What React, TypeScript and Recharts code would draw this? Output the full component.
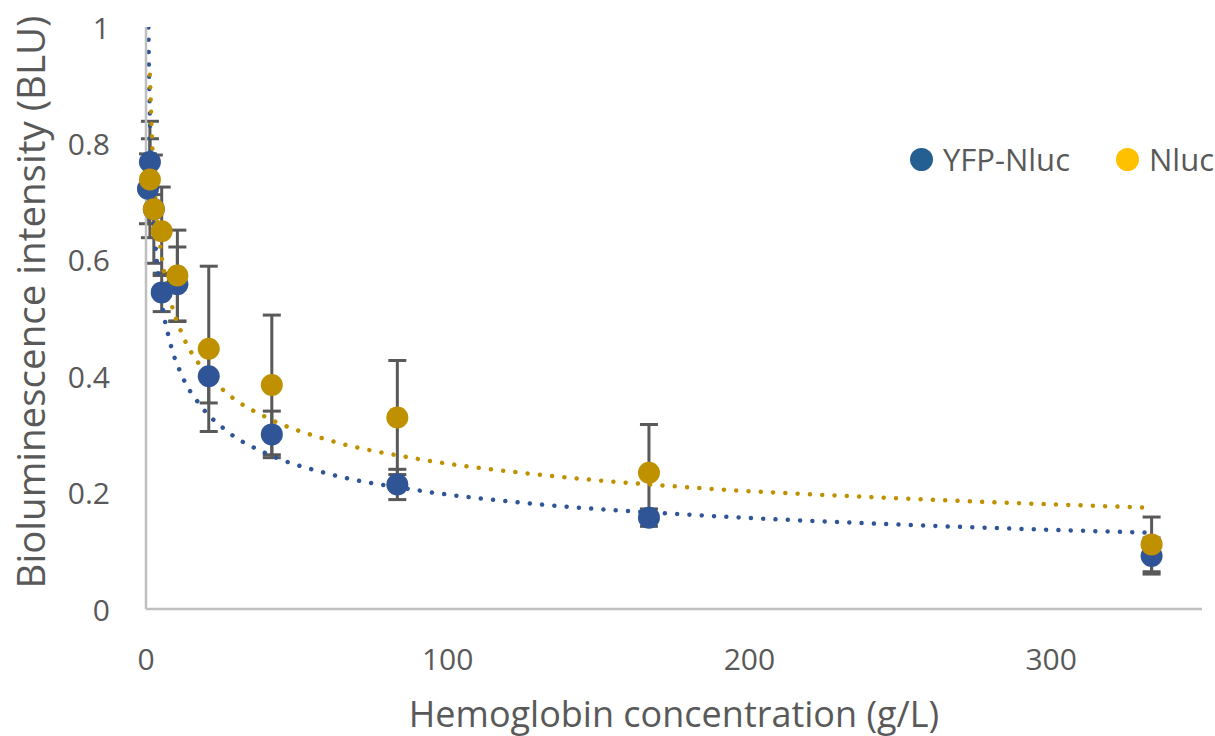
import React from "react";
import { ComposedChart, Scatter, Line, XAxis, YAxis, ErrorBar } from "recharts";

// hemoglobin concentration (g/L), two-fold dilutions
const YFP_CONC = [0.65, 1.3, 2.6, 5.2, 10.4, 20.8, 41.7, 83.3, 166.7, 333.3];
const YFP_BLU = [0.722, 0.768, 0.687, 0.544, 0.558, 0.4, 0.3, 0.214, 0.157, 0.091];
const YFP_ERR = [0.06, 0.04, 0.025, 0.033, 0.064, 0.046, 0.04, 0.026, 0.015, 0.031];

const NLUC_CONC = [1.3, 2.6, 5.2, 10.4, 20.8, 41.7, 83.3, 166.7, 333.3];
const NLUC_BLU = [0.738, 0.687, 0.649, 0.573, 0.447, 0.385, 0.329, 0.234, 0.111];
const NLUC_ERR = [0.1, 0.093, 0.076, 0.078, 0.142, 0.12, 0.098, 0.083, 0.047];

// power trendlines
const YFP_TREND_X = [0.65, 1, 1.3, 2, 3, 5, 8, 12, 18, 27, 40, 60, 90, 130, 180, 250, 333.3];
const YFP_TREND_Y = [1.063, 0.92, 0.843, 0.73, 0.637, 0.536, 0.458, 0.4, 0.35, 0.305, 0.267, 0.233, 0.204, 0.18, 0.162, 0.145, 0.131];
const NLUC_TREND_X = [1.3, 2, 3, 5, 8, 12, 18, 27, 40, 60, 90, 130, 180, 250, 333.3];
const NLUC_TREND_Y = [0.918, 0.807, 0.715, 0.613, 0.533, 0.472, 0.418, 0.37, 0.329, 0.291, 0.258, 0.231, 0.209, 0.19, 0.174];

const X_TICKS = [0, 100, 200, 300];
const Y_TICKS = [0, 0.2, 0.4, 0.6, 0.8, 1];

const BLUE = "#2F5597";
const GOLD = "#BF9000";
const TEXT = "#595959";
const FONT = "'Open Sans', sans-serif";

const toPoints = (xs: number[], ys: number[], errs?: number[]) =>
  xs.map((x, i) => ({ x, y: ys[i], err: errs ? errs[i] : 0 }));

const yfpData = toPoints(YFP_CONC, YFP_BLU, YFP_ERR);
const nlucData = toPoints(NLUC_CONC, NLUC_BLU, NLUC_ERR);
const yfpTrend = toPoints(YFP_TREND_X, YFP_TREND_Y);
const nlucTrend = toPoints(NLUC_TREND_X, NLUC_TREND_Y);

const Dot = (color: string) => (p: any) => <circle cx={p.cx} cy={p.cy} r={11} fill={color} />;
const Nothing = () => <g />;

const XTick = (p: any) => (
  <text x={p.x} y={658} textAnchor="middle" dominantBaseline="central" fill={TEXT} fontSize={30} fontFamily={FONT}>
    {p.payload.value}
  </text>
);

const YTick = (p: any) => (
  <text x={110} y={p.y} textAnchor="end" dominantBaseline="central" fill={TEXT} fontSize={30} fontFamily={FONT}>
    {p.payload.value}
  </text>
);

export default function App() {
  return (
    <div style={{ position: "absolute", left: 0, top: 0, width: 1215, height: 736, background: "#fff", fontFamily: FONT }}>
      <ComposedChart width={1215} height={736} margin={{ top: 27, right: 13, left: 0, bottom: 0 }}>
        <XAxis
          type="number"
          dataKey="x"
          domain={[0, 350]}
          ticks={X_TICKS}
          tick={<XTick />}
          tickLine={false}
          axisLine={{ stroke: "#BFBFBF", strokeWidth: 2.5 }}
          height={127}
        />
        <YAxis
          type="number"
          dataKey="y"
          domain={[0, 1]}
          ticks={Y_TICKS}
          allowDataOverflow
          tick={<YTick />}
          tickLine={false}
          axisLine={{ stroke: "#BFBFBF", strokeWidth: 2.5 }}
          width={146}
        />

        {/* error bars sit under every marker */}
        <Scatter data={yfpData} shape={Nothing} isAnimationActive={false}>
          <ErrorBar dataKey="err" direction="y" width={9} stroke={TEXT} strokeWidth={3} />
        </Scatter>
        <Scatter data={nlucData} shape={Nothing} isAnimationActive={false}>
          <ErrorBar dataKey="err" direction="y" width={9} stroke={TEXT} strokeWidth={3} />
        </Scatter>

        <Scatter name="YFP-Nluc" data={yfpData} shape={Dot(BLUE)} isAnimationActive={false} />
        <Scatter name="Nluc" data={nlucData} shape={Dot(GOLD)} isAnimationActive={false} />

        <Line
          data={yfpTrend}
          dataKey="y"
          type="monotone"
          stroke={BLUE}
          strokeWidth={4.5}
          strokeDasharray="0.01 12.3"
          strokeLinecap="round"
          dot={false}
          activeDot={false}
          isAnimationActive={false}
        />
        <Line
          data={nlucTrend}
          dataKey="y"
          type="monotone"
          stroke={GOLD}
          strokeWidth={4.5}
          strokeDasharray="0.01 12.3"
          strokeLinecap="round"
          dot={false}
          activeDot={false}
          isAnimationActive={false}
        />
      </ComposedChart>

      {/* legend */}
      <div style={{ position: "absolute", left: 910, top: 140, display: "flex", alignItems: "center", color: TEXT, fontSize: 31, lineHeight: "38px" }}>
        <span style={{ width: 23, height: 23, borderRadius: "50%", background: "#255E91", display: "inline-block", marginRight: 10 }} />
        <span>YFP-Nluc</span>
        <span style={{ width: 23, height: 23, borderRadius: "50%", background: "#FFC000", display: "inline-block", marginLeft: 46, marginRight: 10 }} />
        <span>Nluc</span>
      </div>

      {/* axis titles */}
      <div style={{ position: "absolute", left: 674, top: 713, transform: "translate(-50%, -50%)", whiteSpace: "nowrap", color: TEXT, fontSize: 36 }}>
        Hemoglobin concentration (g/L)
      </div>
      <div style={{ position: "absolute", left: 30, top: 302, transform: "translate(-50%, -50%) rotate(-90deg)", whiteSpace: "nowrap", color: TEXT, fontSize: 38.5 }}>
        Bioluminescence intensity (BLU)
      </div>
    </div>
  );
}
